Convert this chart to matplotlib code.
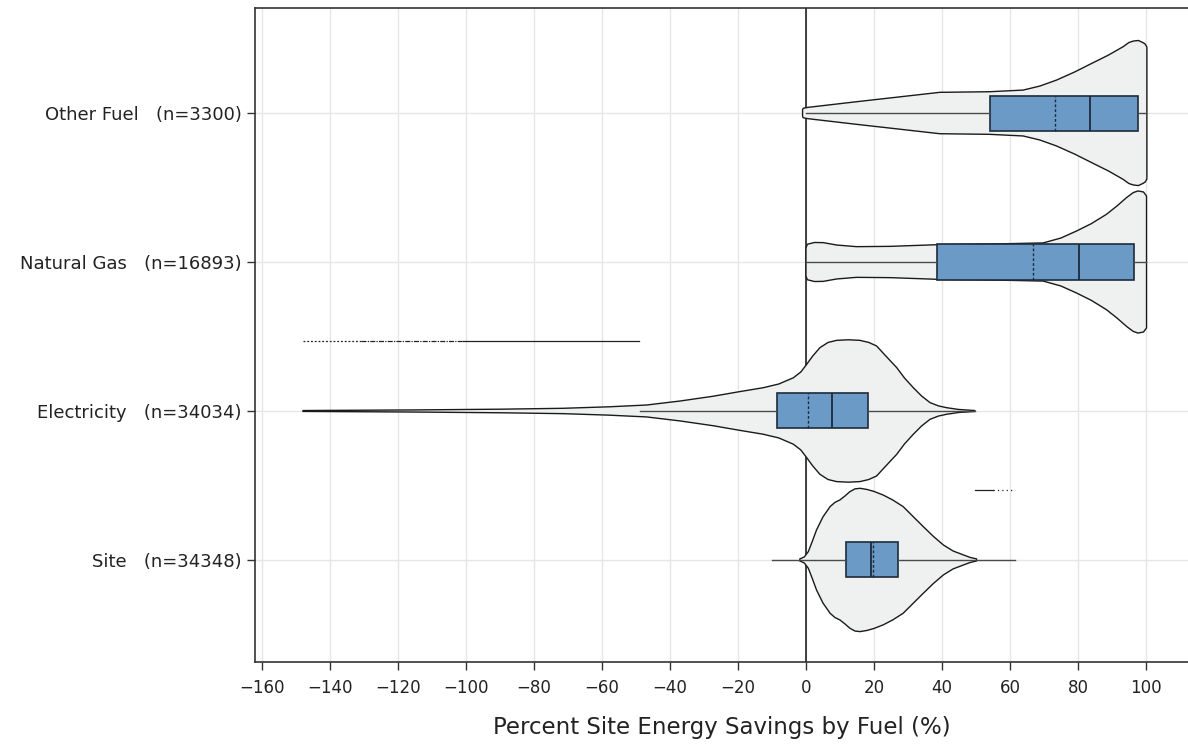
import matplotlib
matplotlib.use("Agg")
import matplotlib.pyplot as plt
import numpy as np

# fuel categories, top to bottom
fuels = ["Other Fuel", "Natural Gas", "Electricity", "Site"]
counts = [3300, 16893, 34034, 34348]

# violin outlines: savings (%) and half-width of the density
other_x = [-1.0, -0.8, 0.6, 14.9, 27.0, 39.4, 54.0, 63.9, 68.8, 73.7, 79.0, 84.5, 89.0,
           93.3, 95.0, 96.3, 97.8, 99.2, 99.8, 100.3]
other_w = [0.023, 0.032, 0.038, 0.076, 0.107, 0.139, 0.143, 0.154, 0.181, 0.221, 0.275,
           0.338, 0.389, 0.445, 0.473, 0.483, 0.487, 0.472, 0.463, 0.443]

gas_x = [0.0, 0.4, 2.5, 5.1, 9.0, 14.9, 24.7, 38.4, 55.0, 69.8, 75.0, 79.6, 84.0, 88.4,
         91.5, 94.3, 96.3, 97.7, 99.3, 100.2]
gas_w = [0.094, 0.119, 0.131, 0.130, 0.114, 0.103, 0.105, 0.116, 0.121, 0.128, 0.161,
         0.208, 0.258, 0.320, 0.376, 0.432, 0.466, 0.477, 0.470, 0.443]

elec_x = [-148.0, -115.6, -90.0, -71.5, -58.0, -46.9, -37.0, -27.3, -20.0, -12.6, -8.0,
          -3.7, -1.5, 0.2, 2.0, 4.1, 6.5, 9.0, 12.5, 15.9, 18.5, 20.8, 23.5, 26.7, 29.0,
          31.6, 34.0, 36.5, 39.0, 41.4, 45.0, 49.7]
elec_w = [0.003, 0.007, 0.012, 0.018, 0.028, 0.040, 0.067, 0.099, 0.128, 0.156, 0.181,
          0.223, 0.262, 0.313, 0.369, 0.425, 0.460, 0.474, 0.478, 0.474, 0.460, 0.436,
          0.369, 0.291, 0.221, 0.156, 0.101, 0.056, 0.034, 0.022, 0.010, 0.003]

site_x = [-1.8, -0.5, 0.7, 1.8, 3.1, 5.0, 7.1, 8.5, 10.0, 11.5, 12.9, 14.4, 15.9, 18.0,
          20.0, 22.7, 25.5, 28.6, 31.5, 34.5, 37.5, 40.4, 43.3, 46.3, 48.3, 50.2]
site_w = [0.007, 0.020, 0.056, 0.121, 0.201, 0.289, 0.358, 0.386, 0.403, 0.430, 0.458,
          0.477, 0.481, 0.473, 0.460, 0.436, 0.403, 0.358, 0.292, 0.224, 0.158, 0.101,
          0.060, 0.034, 0.017, 0.007]

# box stats per fuel (same order as fuels)
q1 = [54.1, 38.5, -8.5, 11.8]
med = [83.5, 80.4, 7.6, 19.1]
mean = [73.2, 66.8, 0.6, 19.7]
q3 = [97.6, 96.5, 18.2, 27.1]
whis_lo = [0.0, 0.0, -48.8, -10.1]
whis_hi = [100.0, 100.0, 49.7, 61.5]

# outlier spans (Electricity low tail, Site high tail)
elec_fliers = [-148.0, -131.0, -101.0, -49.0]
site_fliers = [49.7, 55.0, 61.5]

xticks = list(range(-160, 101, 20))

plt.rcParams['font.family'] = ['DejaVu Sans']
fig = plt.figure(figsize=(11.88, 7.44), dpi=100)
ax = fig.add_axes([255/1188, 82/744, 933/1188, 654/744])

pos = [3, 2, 1, 0]
violins = [(other_x, other_w), (gas_x, gas_w), (elec_x, elec_w), (site_x, site_w)]

for p, (vx, vw) in zip(pos, violins):
    vx = np.array(vx)
    vw = np.array(vw)
    px = np.concatenate([vx, vx[::-1]])
    py = np.concatenate([p + vw, (p - vw)[::-1]])
    ax.fill(px, py, facecolor='#EFF0F0', edgecolor='#1a1a1a', lw=1.0,
            joinstyle='round', zorder=2)

stats = []
for i in range(4):
    stats.append({'q1': q1[i], 'med': med[i], 'mean': mean[i], 'q3': q3[i],
                  'whislo': whis_lo[i], 'whishi': whis_hi[i], 'fliers': []})

ax.bxp(stats, positions=pos, widths=0.235, orientation='horizontal',
       patch_artist=True, showcaps=False, showmeans=True, meanline=True,
       boxprops=dict(facecolor='#6A9AC5', edgecolor='#1E2B3C', lw=1.2),
       medianprops=dict(color='#1E2B3C', lw=1.3),
       meanprops=dict(color='#1E2B3C', lw=1.0, ls=(0, (2, 1.5))),
       whiskerprops=dict(color='#4a4a4a', lw=1.0),
       zorder=3)
for ln in ax.lines:
    ln.set_zorder(3.5)

# outliers drawn just above each violin
ax.plot(elec_fliers[:2], [1.47, 1.47], color='#222222', lw=0.9, ls=(0, (1.5, 1.5)), zorder=3)
ax.plot(elec_fliers[1:3], [1.47, 1.47], color='#222222', lw=0.9, ls=(0, (4, 1, 1, 1)), zorder=3)
ax.plot(elec_fliers[2:], [1.47, 1.47], color='#222222', lw=0.9, zorder=3)
ax.plot(site_fliers[:2], [0.47, 0.47], color='#222222', lw=0.9, zorder=3)
ax.plot(site_fliers[1:], [0.47, 0.47], color='#222222', lw=0.9, ls=(0, (1, 2.5)), zorder=3)

ax.axvline(0, color='#222222', lw=1.2, zorder=1)

ax.set_xlim(-162.1, 112.4)
ax.set_ylim(-0.685, 3.705)
ax.set_xticks(xticks)
ax.set_xticklabels([str(t).replace('-', '\u2212') for t in xticks], fontsize=12)
ax.set_yticks(pos)
ax.set_yticklabels([f"{f}   (n={n})" for f, n in zip(fuels, counts)], fontsize=13)
ax.grid(True, color='#E6E6E6', lw=1.0, zorder=0)
ax.set_axisbelow(True)
ax.tick_params(axis='both', length=6, width=1, color='#333333', labelcolor='#222222')
ax.tick_params(axis='x', pad=6)
for s in ['left', 'bottom', 'top']:
    ax.spines[s].set_color('#333333')
    ax.spines[s].set_linewidth(1.2)
ax.spines['right'].set_visible(False)

ax.set_xlabel("Percent Site Energy Savings by Fuel (%)", fontsize=16.5, color='#222222', labelpad=14)

fig.savefig("out.png", dpi=100)
